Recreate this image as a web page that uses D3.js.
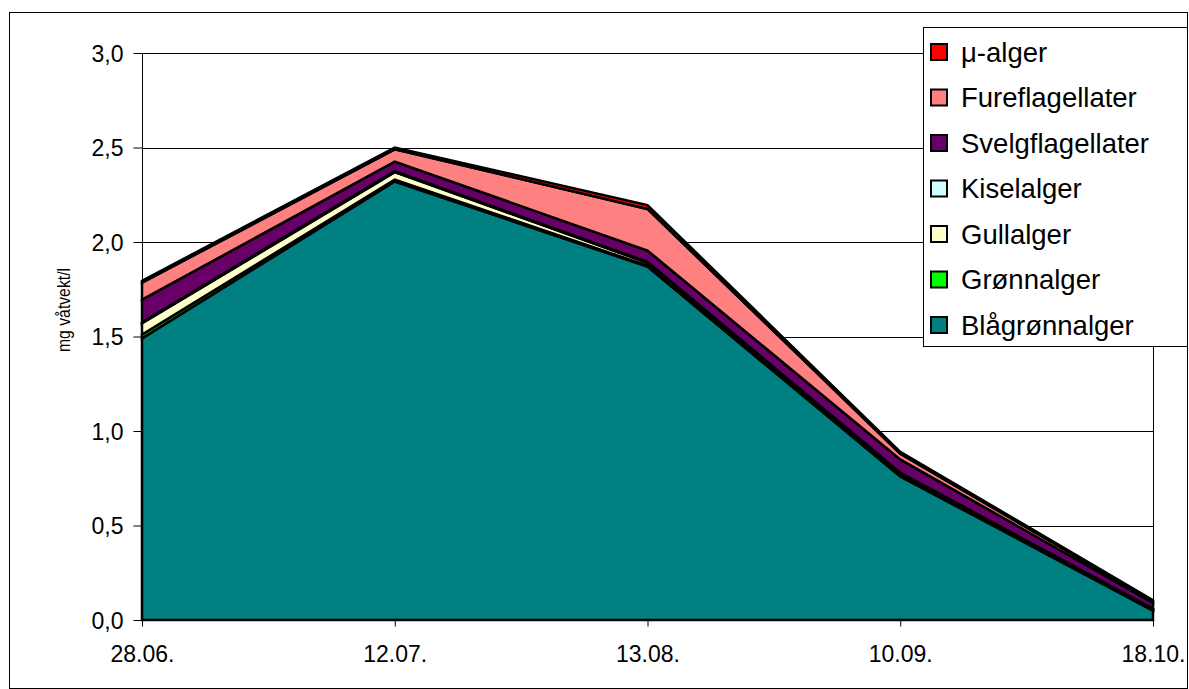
<!DOCTYPE html>
<html lang="no">
<head>
<meta charset="UTF-8">
<title>mg våtvekt/l</title>
<script src="https://d3js.org/d3.v7.min.js"></script>
<style>
    body { margin: 0; background: #fff; font-family: "Liberation Sans", Arial, sans-serif; }
    svg text { fill: #000; }
</style>
</head>
<body>
<div id="chart"></div>
<script>
    // Data
    const dates = ["28.06.", "12.07.", "13.08.", "10.09.", "18.10."];
    const seriesNames = ["Blågrønnalger", "Grønnalger", "Gullalger", "Kiselalger", "Svelgflagellater", "Fureflagellater", "μ-alger"];
    const seriesColors = ["#008080", "#00FF00", "#FFFFCC", "#CCFFFF", "#660066", "#FF8080", "#FF0000"];
    const blagronn = [1.49, 2.32, 1.87, 0.76, 0.05];
    const gronn    = [0.02, 0.01, 0.005, 0.005, 0.003];
    const gull     = [0.06, 0.04, 0.015, 0.01, 0.005];
    const kisel    = [0.005, 0.005, 0.005, 0.005, 0.002];
    const svelg    = [0.12, 0.05, 0.06, 0.07, 0.03];
    const fure     = [0.09, 0.065, 0.22, 0.03, 0.01];
    const mu       = [0.01, 0.01, 0.02, 0.01, 0.005];
    const yTicks   = [0, 0.5, 1.0, 1.5, 2.0, 2.5, 3.0];

    const seriesValues = [blagronn, gronn, gull, kisel, svelg, fure, mu];

    const width = 1189, height = 689;
    const plot = { left: 142, right: 1153, top: 53, bottom: 620 };

    const svg = d3.select("#chart").append("svg")
        .attr("width", width)
        .attr("height", height);

    // outer frame
    svg.append("rect")
        .attr("x", 9.5).attr("y", 12.5)
        .attr("width", 1178).attr("height", 676)
        .attr("fill", "#fff").attr("stroke", "#000").attr("stroke-width", 1);

    const x = d3.scalePoint().domain(dates).range([plot.left, plot.right]);
    const y = d3.scaleLinear().domain([0, 3]).range([plot.bottom, plot.top]);

    // table for the stack
    const table = dates.map((d, i) => {
        const row = { date: d };
        seriesNames.forEach((n, k) => row[n] = seriesValues[k][i]);
        return row;
    });
    const stacked = d3.stack().keys(seriesNames)(table);

    // gridlines
    svg.append("g")
        .selectAll("line")
        .data(yTicks.filter(t => t > 0))
        .join("line")
        .attr("x1", plot.left).attr("x2", plot.right)
        .attr("y1", d => Math.round(y(d)) + 0.5).attr("y2", d => Math.round(y(d)) + 0.5)
        .attr("stroke", "#000").attr("stroke-width", 1);

    // plot area right border
    svg.append("line")
        .attr("x1", plot.right + 0.5).attr("x2", plot.right + 0.5)
        .attr("y1", plot.top).attr("y2", plot.bottom)
        .attr("stroke", "#000");

    // areas
    const area = d3.area()
        .x(d => x(d.data.date))
        .y0(d => y(d[0]))
        .y1(d => y(d[1]));

    svg.append("g")
        .selectAll("path")
        .data(stacked)
        .join("path")
        .attr("d", d => area(d) + "Z")
        .attr("fill", (d, i) => seriesColors[i])
        .attr("stroke", "#000")
        .attr("stroke-width", 2.5)
        .attr("stroke-linejoin", "miter");

    // y axis
    const fmt = d3.format(".1f");
    const yAxis = svg.append("g")
        .attr("transform", `translate(${plot.left + 0.5},0)`)
        .call(d3.axisLeft(y).tickValues(yTicks).tickSize(9).tickPadding(10)
            .tickFormat(d => fmt(d).replace(".", ",")));
    yAxis.select(".domain").attr("d", `M0,${plot.top}V${plot.bottom}`).attr("stroke", "#000");
    yAxis.selectAll("text")
        .style("font-family", "'Liberation Sans', Arial, sans-serif")
        .style("font-size", "23px")
        .attr("dy", "0.36em");

    // x axis
    const xAxis = svg.append("g")
        .attr("transform", `translate(0,${plot.bottom + 0.5})`)
        .call(d3.axisBottom(x).tickSize(6).tickPadding(19));
    xAxis.select(".domain").attr("d", `M${plot.left},0H${plot.right}`).attr("stroke", "#000");
    xAxis.selectAll("text")
        .style("font-family", "'Liberation Sans', Arial, sans-serif")
        .style("font-size", "23px");

    // y axis title
    svg.append("text")
        .attr("transform", "translate(70,310) rotate(-90)")
        .attr("text-anchor", "middle")
        .attr("textLength", 84)
        .attr("lengthAdjust", "spacingAndGlyphs")
        .style("font-size", "18px")
        .text("mg våtvekt/l");

    // legend
    const legend = svg.append("g");
    legend.append("rect")
        .attr("x", 923.5).attr("y", 27.5)
        .attr("width", 264).attr("height", 319)
        .attr("fill", "#fff").attr("stroke", "#000").attr("stroke-width", 1);

    const legendItems = seriesNames.map((n, i) => ({ name: n, color: seriesColors[i] })).reverse();
    const item = legend.selectAll("g.item")
        .data(legendItems)
        .join("g")
        .attr("class", "item")
        .attr("transform", (d, i) => `translate(0,${52 + i * 45.5})`);
    item.append("rect")
        .attr("x", 931).attr("y", -8)
        .attr("width", 16).attr("height", 16)
        .attr("fill", d => d.color)
        .attr("stroke", "#000").attr("stroke-width", 2);
    item.append("text")
        .attr("x", 961).attr("y", 0).attr("dy", "0.36em")
        .style("font-size", "27.5px")
        .text(d => d.name);
</script>
</body>
</html>
